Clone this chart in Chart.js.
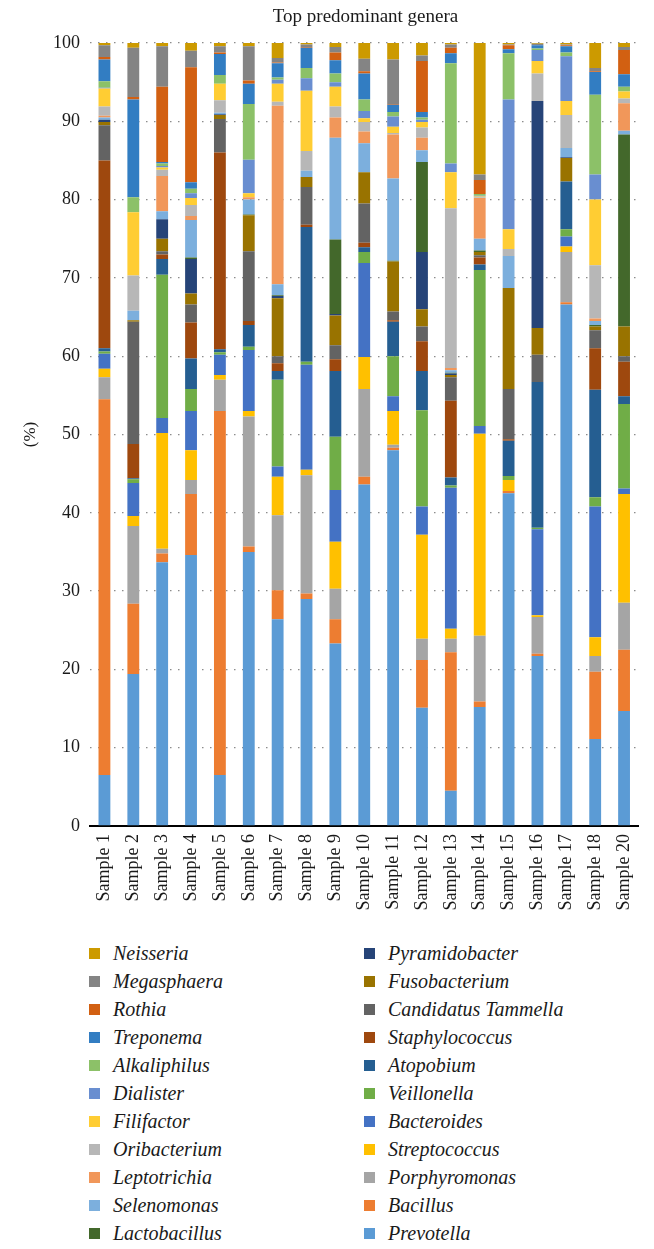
<!DOCTYPE html>
<html>
<head>
<meta charset="utf-8">
<script src="https://cdn.jsdelivr.net/npm/chart.js@4.4.1/dist/chart.umd.min.js"></script>
<style>
  html, body { margin: 0; padding: 0; background: #fff; }
  #wrap { position: relative; width: 654px; height: 1249px; overflow: hidden; }
  #grafico { position: absolute; left: 0; top: 0; }
  #titulo { position: absolute; left: 90px; width: 551px; top: 5px; text-align: center;
            font-family: 'Liberation Serif', 'Times New Roman', serif; font-size: 19px; color: #1a1a1a; }
  .col { position: absolute; top: 939px; }
  .item { height: 28px; line-height: 28px; position: relative; white-space: nowrap;
          font-family: 'Liberation Serif', 'Times New Roman', serif; font-style: italic;
          font-size: 20px; color: #1a1a1a; padding-left: 24px; }
  .item span { position: absolute; left: 0; top: 9px; width: 11px; height: 11px; }
</style>
</head>
<body>
<div id="wrap">
  <canvas id="grafico" width="654" height="930"></canvas>
  <div id="titulo">Top predominant genera</div>
  <div id="legendaEsq" class="col" style="left:89px"></div>
  <div id="legendaDir" class="col" style="left:364px"></div>
</div>
<script>
// Categorias (não existe Sample 19 no original)
const samples = ['Sample 1', 'Sample 2', 'Sample 3', 'Sample 4', 'Sample 5', 'Sample 6', 'Sample 7',
  'Sample 8', 'Sample 9', 'Sample 10', 'Sample 11', 'Sample 12', 'Sample 13', 'Sample 14',
  'Sample 15', 'Sample 16', 'Sample 17', 'Sample 18', 'Sample 20'];

const yTicks = [0, 10, 20, 30, 40, 50, 60, 70, 80, 90, 100];

// Percentagens por género, uma posição por amostra
const prevotella     = [6.5, 19.4, 33.7, 34.6, 6.5, 35.0, 26.4, 29.0, 23.3, 43.6, 48.0, 15.1, 4.5, 15.2, 42.5, 21.7, 66.6, 11.1, 14.7];
const bacillus       = [48.0, 9.0, 1.1, 7.8, 46.5, 0.7, 3.7, 0.7, 3.1, 1.0, 0.3, 6.1, 17.7, 0.7, 0.3, 0.3, 0.3, 8.6, 7.8];
const porphyromonas  = [2.8, 9.9, 0.6, 1.8, 4.0, 16.6, 9.6, 15.1, 3.9, 11.2, 0.4, 2.7, 1.7, 8.4, 0, 4.7, 6.4, 2.0, 6.0];
const streptococcus  = [1.1, 1.3, 14.8, 3.8, 0.6, 0.7, 4.9, 0.7, 6.0, 4.1, 4.3, 13.3, 1.3, 25.8, 1.4, 0.2, 0.7, 2.4, 13.9];
const bacteroides    = [1.9, 4.2, 1.9, 5.0, 2.6, 7.8, 1.3, 13.4, 6.6, 12.0, 1.9, 3.6, 18.0, 1.0, 0, 11.0, 1.3, 16.7, 0.7];
const veillonella    = [0.3, 0.5, 18.3, 2.8, 0.3, 0.4, 11.1, 0.4, 6.8, 1.4, 5.1, 12.3, 0.3, 19.9, 0.5, 0.2, 0.9, 1.2, 10.8];
const atopobium      = [0.4, 0.1, 2.0, 3.9, 0.4, 2.8, 1.1, 17.2, 8.4, 0.6, 4.4, 5.0, 1.0, 0.7, 4.5, 18.6, 6.1, 13.7, 1.0];
const staphylococcus = [24.0, 4.4, 0.6, 4.6, 25.1, 0.5, 1.0, 0.3, 1.5, 0.6, 0.2, 3.8, 9.8, 0.9, 0.2, 0, 0, 5.3, 4.4];
const tammella       = [4.5, 15.6, 0.4, 2.3, 4.3, 8.9, 0.9, 4.8, 1.8, 5.0, 1.1, 1.9, 3.0, 0.3, 6.4, 3.5, 0, 2.3, 0.7];
const fusobacterium  = [0.4, 0.2, 1.6, 1.4, 0.5, 4.6, 7.4, 1.3, 3.8, 4.0, 6.4, 2.2, 0.3, 0.4, 12.9, 3.4, 3.0, 0.5, 3.8];
const pyramidobacter = [0.3, 0, 2.5, 4.4, 0.1, 0, 0.3, 0, 0.2, 0, 0, 7.3, 0.2, 0, 0, 29.0, 0.1, 0, 0];
const lactobacillus  = [0, 0, 0, 0.2, 0, 0.1, 0.1, 0, 9.5, 0, 0.1, 11.5, 0.1, 0.2, 0, 0, 0, 0.2, 24.5];
const selenomonas    = [0.3, 1.2, 1.0, 4.8, 0.2, 1.9, 1.4, 0.8, 13.0, 3.7, 10.5, 1.5, 0.3, 1.5, 4.1, 0, 1.2, 0.5, 0.5];
const leptotrichia   = [0.2, 0, 4.5, 0.5, 0, 0.3, 22.8, 0, 2.6, 1.5, 5.6, 1.6, 0.3, 5.2, 0, 0, 0, 0.3, 3.5];
const oribacterium   = [1.2, 4.5, 0.8, 1.4, 1.6, 0, 0.5, 2.5, 1.4, 1.2, 0.2, 1.3, 20.4, 0.1, 0.9, 3.5, 4.2, 6.8, 0.6];
const filifactor     = [2.3, 8.1, 0.3, 0.9, 2.1, 0.5, 2.3, 7.7, 2.5, 0.5, 0.8, 0.7, 4.6, 0.1, 2.5, 1.6, 1.8, 8.4, 0.9];
const dialister      = [0.1, 0, 0.2, 0.6, 0, 4.3, 0.5, 1.6, 0.6, 0.9, 1.3, 0.3, 1.1, 0.1, 16.6, 1.4, 5.7, 3.2, 0];
const alkaliphilus   = [0.8, 1.9, 0.3, 0.6, 1.1, 7.1, 0.3, 1.3, 1.1, 1.5, 0.6, 0.3, 12.8, 0.2, 5.9, 0.2, 0.5, 10.2, 0.6];
const treponema      = [2.8, 12.5, 0.2, 0.8, 2.7, 2.6, 1.8, 2.6, 1.7, 3.3, 0.9, 0.7, 1.3, 0, 0.5, 0.4, 0.8, 2.9, 1.6];
const rothia         = [0.3, 0.3, 9.6, 14.7, 0.2, 0.4, 0.1, 0.1, 1.0, 0.3, 0.1, 6.5, 0.7, 1.8, 0.5, 0, 0.1, 0.1, 3.1];
const megasphaera    = [1.5, 6.3, 5.2, 2.1, 0.8, 4.4, 0.6, 0.3, 0.7, 1.6, 5.7, 0.7, 0.4, 0.7, 0.1, 0.2, 0.1, 0.4, 0.4];
const neisseria      = [0.3, 0.6, 0.4, 1.0, 0.4, 0.4, 1.9, 0.2, 0.5, 2.0, 2.1, 1.6, 0.2, 16.8, 0.2, 0.1, 0.2, 3.2, 0.5];

// Ordem de empilhamento (de baixo para cima)
const genera = ['Prevotella', 'Bacillus', 'Porphyromonas', 'Streptococcus', 'Bacteroides', 'Veillonella',
  'Atopobium', 'Staphylococcus', 'Candidatus Tammella', 'Fusobacterium', 'Pyramidobacter', 'Lactobacillus',
  'Selenomonas', 'Leptotrichia', 'Oribacterium', 'Filifactor', 'Dialister', 'Alkaliphilus', 'Treponema',
  'Rothia', 'Megasphaera', 'Neisseria'];

const series = [prevotella, bacillus, porphyromonas, streptococcus, bacteroides, veillonella,
  atopobium, staphylococcus, tammella, fusobacterium, pyramidobacter, lactobacillus,
  selenomonas, leptotrichia, oribacterium, filifactor, dialister, alkaliphilus, treponema,
  rothia, megasphaera, neisseria];

// Paleta estilo Excel
const cores = ['#5B9BD5', '#ED7D31', '#A5A5A5', '#FFC000', '#4472C4', '#70AD47',
  '#255E91', '#9E480E', '#636363', '#997300', '#264478', '#43682B',
  '#7CAFDD', '#F1975A', '#B7B7B7', '#FFCD33', '#698ED0', '#8CC168', '#327DC2',
  '#D26012', '#848484', '#CC9A00'];

const fonte = "'Liberation Serif', 'Times New Roman', serif";

const datasets = genera.map((nome, i) => ({
  label: nome,
  data: series[i],
  backgroundColor: cores[i],
  borderWidth: 0,
  barPercentage: 0.41,
  categoryPercentage: 1.0
}));

new Chart(document.getElementById('grafico').getContext('2d'), {
  type: 'bar',
  data: { labels: samples, datasets: datasets },
  options: {
    responsive: false,
    animation: false,
    devicePixelRatio: 1,
    layout: { padding: { left: 0, right: 13, top: 43, bottom: 0 } },
    plugins: {
      legend: { display: false },
      tooltip: { enabled: false },
      title: { display: false }
    },
    scales: {
      x: {
        stacked: true,
        grid: { display: false, drawTicks: false },
        border: { display: true, color: '#000', width: 2 },
        ticks: {
          color: '#1a1a1a',
          font: { family: fonte, size: 18 },
          minRotation: 90,
          maxRotation: 90,
          autoSkip: false,
          padding: 8
        },
        afterFit: (scale) => { scale.height = 104; }
      },
      y: {
        stacked: true,
        min: 0,
        max: 100,
        afterBuildTicks: (scale) => { scale.ticks = yTicks.map(v => ({ value: v })); },
        grid: { color: '#8c8c8c', lineWidth: 1.3, drawTicks: false },
        border: { display: false, dash: [1.5, 6.5] },
        ticks: {
          color: '#1a1a1a',
          font: { family: fonte, size: 18 },
          padding: 10
        },
        title: {
          display: true,
          text: '(%)',
          color: '#1a1a1a',
          font: { family: fonte, size: 17 },
          padding: { top: 20, bottom: 0 }
        },
        afterFit: (scale) => { scale.width = 90; }
      }
    }
  }
});

// Legenda em duas colunas, lida de cima para baixo (ordem inversa da pilha)
const invertidos = genera.map((nome, i) => ({ nome, cor: cores[i] })).reverse();
const esq = document.getElementById('legendaEsq');
const dir = document.getElementById('legendaDir');
invertidos.forEach((item, i) => {
  const el = document.createElement('div');
  el.className = 'item';
  el.innerHTML = `<span style="background:${item.cor}"></span>${item.nome}`;
  (i < 11 ? esq : dir).appendChild(el);
});
</script>
</body>
</html>
